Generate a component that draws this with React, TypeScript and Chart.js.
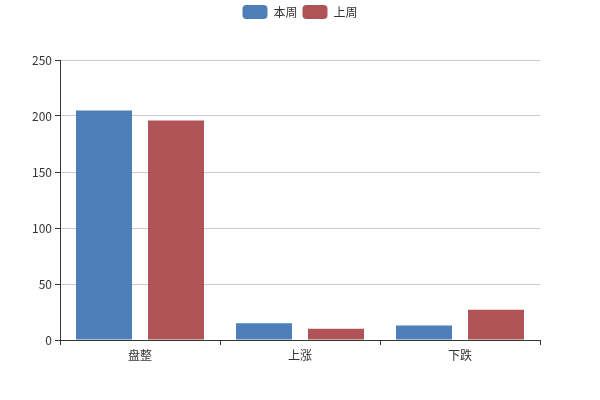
import React, { useEffect, useRef } from "react";
import { Chart, registerables } from "chart.js";

Chart.register(...registerables);

const categories = ["盘整", "上涨", "下跌"];
const thisWeek = [205, 15, 13];
const lastWeek = [196, 10, 27];
const seriesNames = ["本周", "上周"];
const yTicks = [0, 50, 100, 150, 200, 250];

const FONT = "'Microsoft YaHei', 'Noto Sans CJK SC', 'DejaVu Sans', sans-serif";

const layoutFix = {
  id: "layoutFix",
  beforeLayout(chart: any) {
    const lg = chart.legend;
    if (lg && !lg._patched) {
      const orig = lg.fit.bind(lg);
      lg.fit = function () {
        orig();
        this.height = 60;
      };
      lg._patched = true;
    }
  },
  afterLayout(chart: any) {
    const lg = chart.legend;
    if (lg) {
      lg.left = 0;
      lg.right = chart.width;
      lg.width = chart.width;
    }
  },
};

export default function App() {
  const ref = useRef<HTMLCanvasElement>(null);
  useEffect(() => {
    if (!ref.current) return;
    const chart = new Chart(ref.current, {
      type: "bar",
      data: {
        labels: categories,
        datasets: [
          {
            label: seriesNames[0],
            data: thisWeek,
            backgroundColor: "#4e7fbb",
            borderWidth: 0,
          },
          {
            label: seriesNames[1],
            data: lastWeek,
            backgroundColor: "#af5356",
            borderWidth: 0,
          },
        ],
      },
      plugins: [layoutFix],
      options: {
        animation: false,
        responsive: false,
        maintainAspectRatio: false,
        layout: { padding: { left: 0, right: 60, top: 0, bottom: 0 } },
        datasets: {
          bar: { categoryPercentage: 0.9, barPercentage: 56 / 72 },
        },
        plugins: {
          tooltip: { enabled: false },
          legend: {
            position: "top",
            align: "center",
            labels: {
              boxWidth: 25,
              boxHeight: 14,
              useBorderRadius: true,
              borderRadius: 4,
              padding: 5,
              color: "#333",
              font: { family: FONT, size: 12 },
            },
          },
        },
        scales: {
          x: {
            offset: true,
            afterFit(scale: any) {
              scale.height = 60;
            },
            border: { display: true, color: "#333", width: 1 },
            grid: {
              offset: true,
              drawOnChartArea: false,
              drawTicks: true,
              tickLength: 5,
              tickColor: "#333",
            },
            ticks: {
              color: "#333",
              padding: 3,
              font: { family: FONT, size: 12 },
              maxRotation: 0,
            },
          },
          y: {
            min: 0,
            max: 250,
            afterFit(scale: any) {
              scale.width = 60;
            },
            afterBuildTicks(scale: any) {
              scale.ticks = yTicks.map((v) => ({ value: v }));
            },
            border: { display: true, color: "#333", width: 1 },
            grid: {
              color: "#ccc",
              drawTicks: true,
              tickLength: 5,
              tickColor: "#333",
            },
            ticks: {
              color: "#333",
              padding: 3,
              font: { family: FONT, size: 12 },
            },
          },
        },
      },
    });
    return () => chart.destroy();
  }, []);
  return (
    <div style={{ position: "fixed", left: 0, top: 0, width: 600, height: 400, background: "#fff" }}>
      <canvas ref={ref} width={600} height={400} style={{ width: 600, height: 400 }} />
    </div>
  );
}
